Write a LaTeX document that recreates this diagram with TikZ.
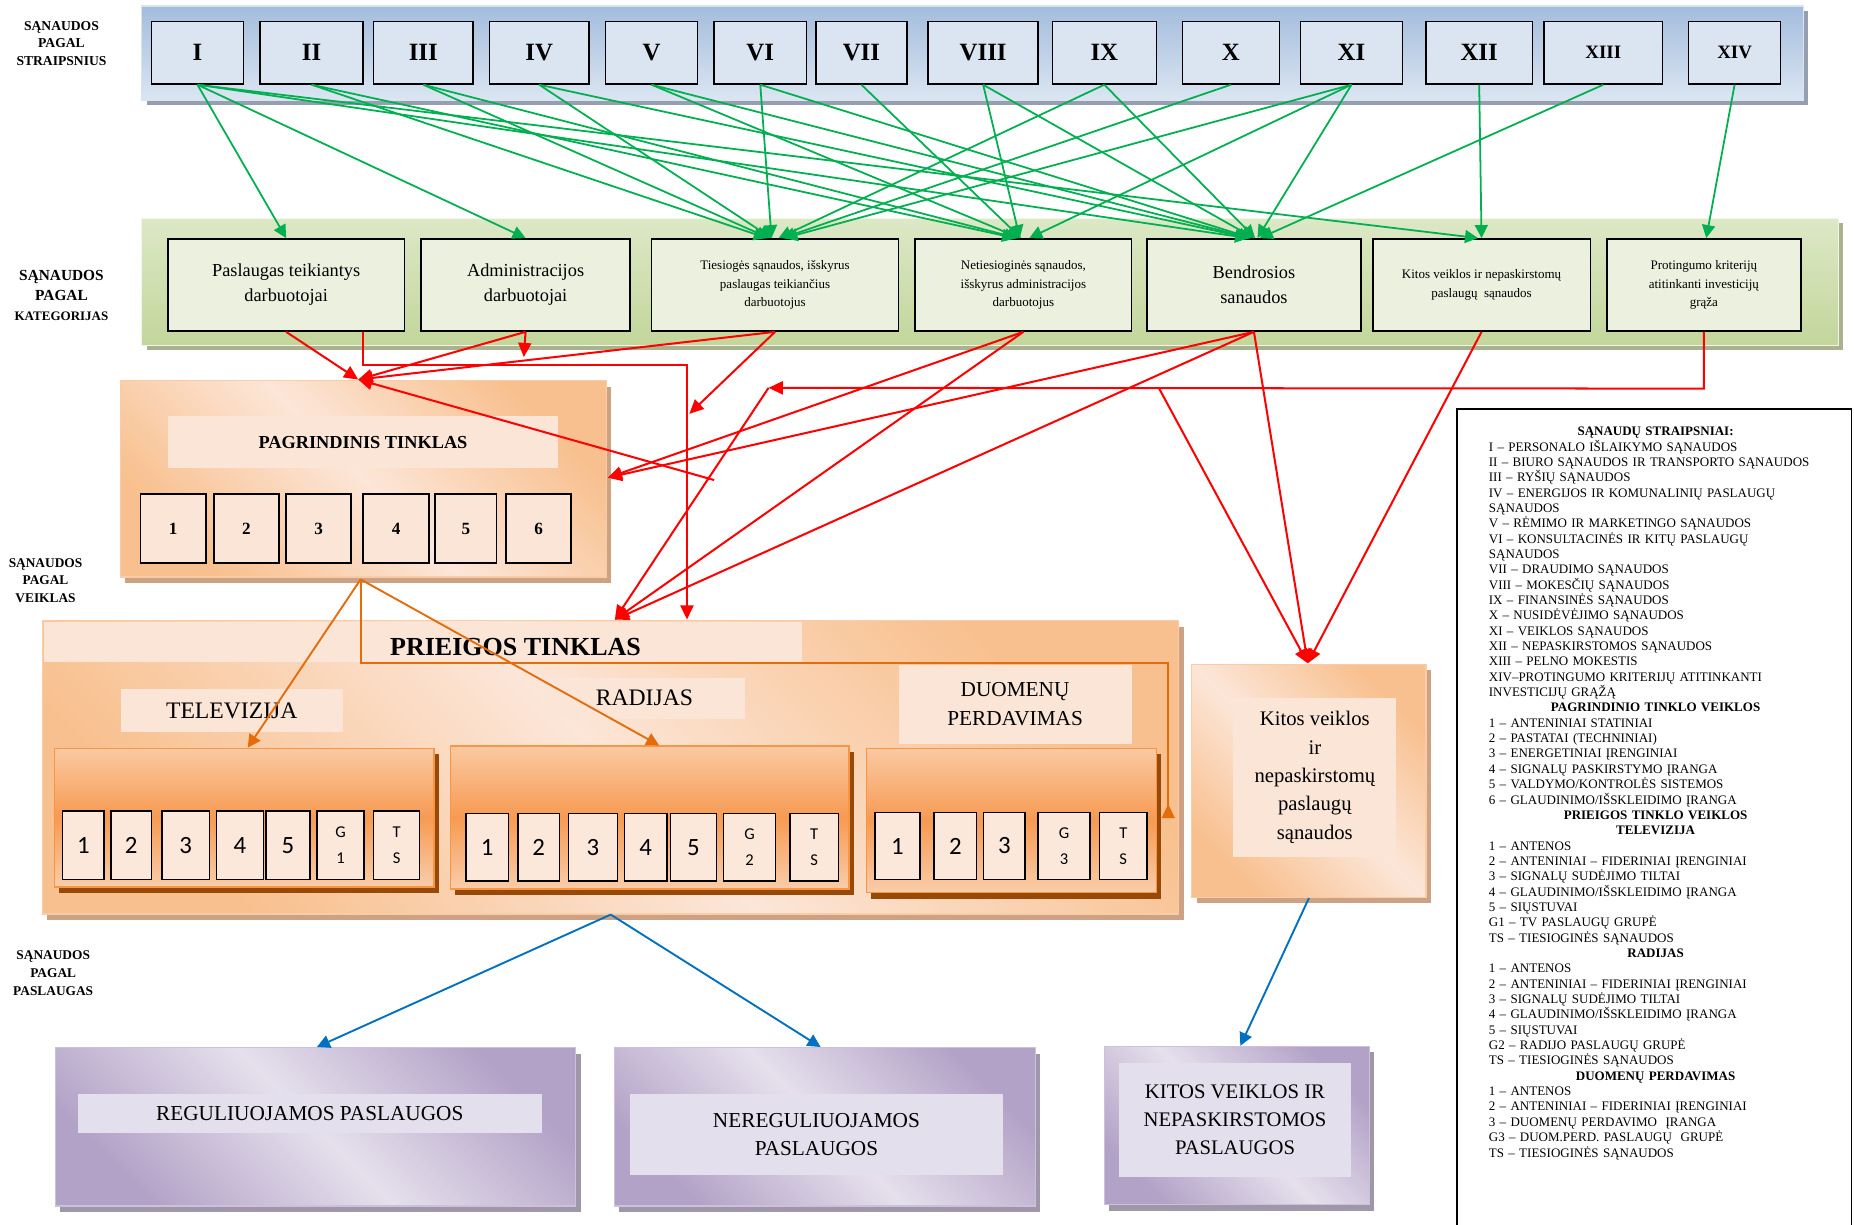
\documentclass[tikz,border=0pt]{standalone}
\usepackage{fontspec}
\setmainfont{Liberation Serif}
\newfontfamily\calib{Carlito}
\usepackage{tikz}
\usetikzlibrary{arrows.meta,shadows}

\definecolor{numfill}{HTML}{DBE5F1}
\definecolor{catfill}{HTML}{EBF1DE}
\definecolor{bluetop}{HTML}{A3BCDC}
\definecolor{bluebot}{HTML}{DCE6F2}
\definecolor{bluesh}{HTML}{959FB0}
\definecolor{grntop}{HTML}{DCE8C6}
\definecolor{grnbot}{HTML}{C3D69B}
\definecolor{grnsh}{HTML}{A9B28F}
\definecolor{orglight}{HTML}{FCE6D8}
\definecolor{orgdark}{HTML}{F8C08E}
\definecolor{orgsh}{HTML}{CDA284}
\definecolor{orgedge}{HTML}{F9CCA8}
\definecolor{subtop}{HTML}{FAC9A2}
\definecolor{submid}{HTML}{F79A52}
\definecolor{subbot}{HTML}{F9CDAA}
\definecolor{subedge}{HTML}{F79646}
\definecolor{brownsh}{HTML}{984807}
\definecolor{cellfill}{HTML}{FCE8DB}
\definecolor{bgorg}{HTML}{FBE5D6}
\definecolor{purdark}{HTML}{B3A2C7}
\definecolor{purlight}{HTML}{E5E0EC}
\definecolor{pursh}{HTML}{9F97A8}
\definecolor{puredge}{HTML}{CCC1DA}
\definecolor{purbg}{HTML}{E4DFEC}
\definecolor{grn}{HTML}{00B050}
\definecolor{rd}{HTML}{FF0000}
\definecolor{org}{HTML}{E46C0A}
\definecolor{blu}{HTML}{0070C0}

\begin{document}
\begin{tikzpicture}[x=1pt,y=-1pt,
  numbox/.style={draw, line width=1.3pt, fill=numfill, minimum height=53pt, inner sep=0pt, font=\fontsize{21}{24}\selectfont\bfseries},
  catbox/.style={draw, line width=1.3pt, fill=catfill, minimum height=78pt, inner sep=0pt, align=center},
  bigbox/.style={draw=orgedge, line width=1pt, top color=orgdark, bottom color=orgdark, middle color=orglight, shading angle=-45, drop shadow={shadow xshift=4pt, shadow yshift=-5pt, fill=orgsh, opacity=1}},
  subbox/.style={draw=subedge, line width=1.2pt, top color=subtop, bottom color=subbot, middle color=submid, drop shadow={shadow xshift=4pt, shadow yshift=-5pt, fill=brownsh, opacity=1}},
  purbox/.style={draw=puredge, line width=1pt, top color=purdark, bottom color=purdark, middle color=purlight, shading angle=-45, drop shadow={shadow xshift=4pt, shadow yshift=-5pt, fill=pursh, opacity=1}},
  bg/.style={fill=bgorg, inner sep=0pt, align=center},
  pbg/.style={fill=purbg, inner sep=0pt, align=center},
  pcell/.style={draw, line width=1.3pt, fill=bgorg, minimum height=58pt, inner sep=0pt, font=\fontsize{14.5}{17}\selectfont\bfseries},
  cell/.style={draw, line width=1.2pt, fill=cellfill, minimum height=58pt, inner sep=0pt, font=\calib\fontsize{21}{24}\selectfont},
  gcell/.style={cell, align=center, font=\calib\fontsize{14}{22}\selectfont},
  lab/.style={align=center, inner sep=0pt},
  garrow/.style={draw=grn, line width=1.5pt, -{Triangle[length=11pt,width=11pt]}},
  rarrow/.style={draw=rd, line width=1.7pt, -{Triangle[length=12pt,width=11pt]}},
  oarrow/.style={draw=org, line width=1.6pt, -{Triangle[length=11pt,width=11pt]}},
  barrow/.style={draw=blu, line width=1.6pt, -{Triangle[length=11pt,width=11pt]}}]

\useasboundingbox (0,0) rectangle (1568,1036);
\fill[white] (0,0) rectangle (1568,1036);

\node[lab, font=\fontsize{11.5}{14.8}\selectfont\bfseries] (lstr) at (52,36.5) {SĄNAUDOS\\PAGAL\\STRAIPSNIUS};
\node[lab, font=\fontsize{13}{17}\selectfont\bfseries] (lkat) at (52,250) {SĄNAUDOS\\PAGAL\\{\fontsize{11}{13}\selectfont KATEGORIJAS}};
\node[lab, font=\fontsize{11.3}{14.8}\selectfont\bfseries] (lveik) at (38.5,491) {SĄNAUDOS\\PAGAL\\VEIKLAS};
\node[lab, font=\fontsize{11.3}{15.2}\selectfont\bfseries] (lpasl) at (45,823) {SĄNAUDOS\\PAGAL\\PASLAUGAS};

\node[draw=white!60!bluetop, line width=1pt, top color=bluetop, bottom color=bluebot, drop shadow={shadow xshift=4pt, shadow yshift=-4pt, fill=bluesh, opacity=1}, minimum width=1405pt, minimum height=80pt] (art) at (822.5,45) {};
\node[draw=white!60!grntop, line width=1pt, top color=grntop, bottom color=grnbot, drop shadow={shadow xshift=4pt, shadow yshift=-4pt, fill=grnsh, opacity=1}, minimum width=1435pt, minimum height=107pt] (kat) at (837.5,238.5) {};

\node[numbox, minimum width=78pt] (I) at (167,44.5) {I};
\node[numbox, minimum width=87pt] (II) at (263.5,44.5) {II};
\node[numbox, minimum width=84pt] (III) at (358,44.5) {III};
\node[numbox, minimum width=84pt] (IV) at (456,44.5) {IV};
\node[numbox, minimum width=78pt] (V) at (551,44.5) {V};
\node[numbox, minimum width=78pt] (VI) at (643,44.5) {VI};
\node[numbox, minimum width=77pt] (VII) at (728.5,44.5) {VII};
\node[numbox, minimum width=93pt] (VIII) at (831.5,44.5) {VIII};
\node[numbox, minimum width=88pt] (IX) at (934,44.5) {IX};
\node[numbox, minimum width=82pt] (X) at (1041,44.5) {X};
\node[numbox, minimum width=86pt] (XI) at (1143,44.5) {XI};
\node[numbox, minimum width=90pt] (XII) at (1251,44.5) {XII};
\node[numbox, minimum width=100pt, font=\fontsize{16}{19}\selectfont\bfseries] (XIII) at (1356,44.5) {XIII};
\node[numbox, minimum width=78pt, font=\fontsize{16}{19}\selectfont\bfseries] (XIV) at (1467,44.5) {XIV};

\node[catbox, minimum width=200pt, font=\fontsize{15.5}{21}\selectfont] (P) at (242,241) {Paslaugas teikiantys\\darbuotojai};
\node[catbox, minimum width=177pt, font=\fontsize{15.5}{21}\selectfont] (A) at (444.5,241) {Administracijos\\darbuotojai};
\node[catbox, minimum width=209pt, font=\fontsize{11}{15.5}\selectfont] (T) at (655.5,241) {Tiesiogės sąnaudos, išskyrus\\paslaugas teikiančius\\darbuotojus};
\node[catbox, minimum width=183pt, font=\fontsize{11}{15.5}\selectfont] (N) at (865.5,241) {Netiesioginės sąnaudos,\\išskyrus administracijos\\darbuotojus};
\node[catbox, minimum width=181pt, font=\fontsize{15.5}{21}\selectfont] (B) at (1060.5,241) {Bendrosios\\sanaudos};
\node[catbox, minimum width=184pt, font=\fontsize{11}{16}\selectfont] (K) at (1253,241) {Kitos veiklos ir nepaskirstomų\\paslaugų\ \ sąnaudos};
\node[catbox, minimum width=164pt, font=\fontsize{11}{15.5}\selectfont] (R) at (1441,241) {Protingumo kriterijų\\atitinkanti investicijų\\grąža};

\node[bigbox, minimum width=411pt, minimum height=166pt] (PT) at (307.5,405) {};
\node[bg, minimum width=330pt, minimum height=44pt, font=\fontsize{15.5}{18}\selectfont\bfseries] (PTt) at (307,374) {PAGRINDINIS TINKLAS};
\node[pcell, minimum width=55pt] (p1) at (146.5,447) {1};
\node[pcell, minimum width=55pt] (p2) at (208.5,447) {2};
\node[pcell, minimum width=55pt] (p3) at (269.5,447) {3};
\node[pcell, minimum width=56pt] (p4) at (335,447) {4};
\node[pcell, minimum width=52pt] (p5) at (394,447) {5};
\node[pcell, minimum width=55pt] (p6) at (455.5,447) {6};

\node[bigbox, minimum width=961pt, minimum height=248pt] (AT) at (516.5,649) {};
\fill[bgorg] (37,526) rectangle (678,560);
\node[font=\fontsize{22}{25}\selectfont\bfseries] (ATt) at (436,547) {PRIEIGOS TINKLAS};
\node[bg, minimum width=188pt, minimum height=36pt, font=\fontsize{20}{23}\selectfont] (tvl) at (196,601) {TELEVIZIJA};
\node[bg, minimum width=170pt, minimum height=35pt, font=\fontsize{20}{23}\selectfont] (ral) at (545,590.5) {RADIJAS};
\node[bg, minimum width=197pt, minimum height=67pt, font=\fontsize{18}{24}\selectfont] (dal) at (858.5,595.5) {DUOMENŲ\\PERDAVIMAS};

\node[subbox, minimum width=321pt, minimum height=117pt] (TV) at (206.5,691.5) {};
\node[subbox, minimum width=337pt, minimum height=121pt] (RA) at (549.5,691.5) {};
\node[subbox, minimum width=245pt, minimum height=122pt] (DA) at (855.5,694) {};

\node[cell, minimum width=35pt] (t1) at (70.5,715) {1};
\node[cell, minimum width=34pt] (t2) at (111,715) {2};
\node[cell, minimum width=40pt] (t3) at (157,715) {3};
\node[cell, minimum width=40pt] (t4) at (203,715) {4};
\node[cell, minimum width=37pt] (t5) at (243.5,715) {5};
\node[gcell, minimum width=40pt] (tg) at (288,715) {G\\1};
\node[gcell, minimum width=39pt] (tts) at (335.5,715) {T\\S};

\node[cell, minimum width=36pt, minimum height=57pt] (r1) at (412,716.5) {1};
\node[cell, minimum width=35pt, minimum height=57pt] (r2) at (455.5,716.5) {2};
\node[cell, minimum width=41pt, minimum height=57pt] (r3) at (501.5,716.5) {3};
\node[cell, minimum width=36pt, minimum height=57pt] (r4) at (546,716.5) {4};
\node[cell, minimum width=39pt, minimum height=57pt] (r5) at (586.5,716.5) {5};
\node[gcell, minimum width=44pt, minimum height=57pt] (rg) at (634,716.5) {G\\2};
\node[gcell, minimum width=41pt, minimum height=57pt] (rts) at (688.5,716.5) {T\\S};

\node[cell, minimum width=38pt, minimum height=57pt] (d1) at (759,715.5) {1};
\node[cell, minimum width=36pt, minimum height=57pt] (d2) at (808,715.5) {2};
\node[cell, minimum width=35pt, minimum height=57pt] (d3) at (849.5,715.5) {3};
\node[gcell, minimum width=44pt, minimum height=57pt] (dg) at (900,715.5) {G\\3};
\node[gcell, minimum width=40pt, minimum height=57pt] (dts) at (950,715.5) {T\\S};

\node[bigbox, minimum width=198pt, minimum height=197pt] (KV) at (1107,660.5) {};
\node[bg, minimum width=138pt, minimum height=135pt, font=\fontsize{17.5}{24}\selectfont] (KVt) at (1112,657.5) {Kitos veiklos\\ir\\nepaskirstomų\\paslaugų\\sąnaudos};

\node[purbox, minimum width=440pt, minimum height=134pt] (PR) at (267,953) {};
\node[pbg, minimum width=392pt, minimum height=33pt, font=\fontsize{18}{24}\selectfont] (PRt) at (262,941.5) {REGULIUOJAMOS PASLAUGOS};
\node[purbox, minimum width=356pt, minimum height=134pt] (NR) at (697.5,953) {};
\node[pbg, minimum width=315pt, minimum height=69pt, font=\fontsize{18}{24}\selectfont] (NRt) at (690.5,959.5) {NEREGULIUOJAMOS\\PASLAUGOS};
\node[purbox, minimum width=224pt, minimum height=134pt] (KP) at (1046,952) {};
\node[pbg, minimum width=197pt, minimum height=96pt, font=\fontsize{17.5}{24}\selectfont] (KPt) at (1044.5,947) {KITOS VEIKLOS IR\\NEPASKIRSTOMOS\\PASLAUGOS};

\draw[line width=1.3pt] (1232,1036) |- (1566,346) -- (1566,1036);
\node[anchor=north west, text width=282pt, align=left, inner sep=0pt, font=\fontsize{11}{12.98}\selectfont] (lg) at (1259,361) {%
\makebox[282pt]{\bfseries SĄNAUDŲ STRAIPSNIAI:}\\
I – PERSONALO IŠLAIKYMO SĄNAUDOS\\
II – BIURO SĄNAUDOS IR TRANSPORTO SĄNAUDOS\\
III – RYŠIŲ SĄNAUDOS\\
\makebox[282pt][s]{IV – ENERGIJOS IR KOMUNALINIŲ PASLAUGŲ}\\
SĄNAUDOS\\
V – RĖMIMO IR MARKETINGO SĄNAUDOS\\
\makebox[282pt][s]{VI – KONSULTACINĖS IR KITŲ PASLAUGŲ}\\
SĄNAUDOS\\
VII – DRAUDIMO SĄNAUDOS\\
VIII – MOKESČIŲ SĄNAUDOS\\
IX – FINANSINĖS SĄNAUDOS\\
X – NUSIDĖVĖJIMO SĄNAUDOS\\
XI – VEIKLOS SĄNAUDOS\\
XII – NEPASKIRSTOMOS SĄNAUDOS\\
XIII – PELNO MOKESTIS\\
XIV–PROTINGUMO KRITERIJŲ ATITINKANTI\\
INVESTICIJŲ GRĄŽĄ\\
\makebox[282pt]{\bfseries PAGRINDINIO TINKLO VEIKLOS}\\
1 – ANTENINIAI STATINIAI\\
2 – PASTATAI (TECHNINIAI)\\
3 – ENERGETINIAI ĮRENGINIAI\\
4 – SIGNALŲ PASKIRSTYMO ĮRANGA\\
5 – VALDYMO/KONTROLĖS SISTEMOS\\
6 – GLAUDINIMO/IŠSKLEIDIMO ĮRANGA\\
\makebox[282pt]{\bfseries PRIEIGOS TINKLO VEIKLOS}\\
\makebox[282pt]{\bfseries TELEVIZIJA}\\
1 – ANTENOS\\
2 – ANTENINIAI – FIDERINIAI ĮRENGINIAI\\
3 – SIGNALŲ SUDĖJIMO TILTAI\\
4 – GLAUDINIMO/IŠSKLEIDIMO ĮRANGA\\
5 – SIŲSTUVAI\\
G1 – TV PASLAUGŲ GRUPĖ\\
TS – TIESIOGINĖS SĄNAUDOS\\
\makebox[282pt]{\bfseries RADIJAS}\\
1 – ANTENOS\\
2 – ANTENINIAI – FIDERINIAI ĮRENGINIAI\\
3 – SIGNALŲ SUDĖJIMO TILTAI\\
4 – GLAUDINIMO/IŠSKLEIDIMO ĮRANGA\\
5 – SIŲSTUVAI\\
G2 – RADIJO PASLAUGŲ GRUPĖ\\
TS – TIESIOGINĖS SĄNAUDOS\\
\makebox[282pt]{\bfseries DUOMENŲ PERDAVIMAS}\\
1 – ANTENOS\\
2 – ANTENINIAI – FIDERINIAI ĮRENGINIAI\\
3 – DUOMENŲ PERDAVIMO\ \ ĮRANGA\\
G3 – DUOM.PERD. PASLAUGŲ\ \ GRUPĖ\\
TS – TIESIOGINĖS SĄNAUDOS};

\path (I.south) edge[garrow] (P.north) edge[garrow] (A.north) edge[garrow] ([xshift=-5pt]B.north) edge[garrow] ([xshift=-3pt]K.north);
\path (II.south) edge[garrow] ([xshift=-7pt]T.north) edge[garrow] ([xshift=-7pt]N.north);
\path (III.south) edge[garrow] ([xshift=-5pt]T.north) edge[garrow] ([xshift=-5pt]N.north);
\path (IV.south) edge[garrow] ([xshift=-3pt]T.north) edge[garrow] ([xshift=-4pt]B.north);
\path (V.south) edge[garrow] ([xshift=-3pt]N.north) edge[garrow] ([xshift=-3pt]B.north);
\path (VI.south) edge[garrow] ([xshift=-3pt]T.north) edge[garrow] ([xshift=-2pt]B.north);
\draw[garrow] (VII.south) -- ([xshift=-2pt]N.north);
\path (VIII.south) edge[garrow] ([xshift=-3pt]N.north) edge[garrow] (B.north);
\path (IX.south) edge[garrow] ([xshift=3pt]T.north) edge[garrow] ([xshift=1pt]B.north);
\draw[garrow] (X.south) -- ([xshift=6pt]T.north);
\path (XI.south) edge[garrow] ([xshift=8pt]T.north) edge[garrow] ([xshift=5pt]N.north) edge[garrow] ([xshift=3pt]B.north);
\draw[garrow] (XII.south) -- (K.north);
\draw[garrow] (XIII.south) -- ([xshift=5pt]B.north);
\draw[garrow] (XIV.south) -- ([xshift=2pt]R.north);

\coordinate (ptin) at (303,321);
\coordinate (ptr) at (514,404);
\coordinate (atin) at (520,524);
\coordinate (atmid) at (581,524);
\coordinate (kvin) at (1106,561);
\coordinate (stray) at (604,406);
\coordinate (ain) at (443,302);
\coordinate (tin) at (583,350);
\coordinate (rend) at (650,328);
\coordinate (rbr) at (980,328);

\draw[rarrow] (P.south) -- (ptin);
\draw[rarrow] ([xshift=65pt]P.south) -- ++(0,28) -| (atmid);
\path (A.south) edge[rarrow] (ptin) edge[rarrow] (ain);
\path (T.south) edge[rarrow] (ptin) edge[rarrow] (tin);
\draw[rarrow] (stray) -- (ptin);
\path (N.south) edge[rarrow] (ptr) edge[rarrow] (atin);
\path (B.south) edge[rarrow] (ptr) edge[rarrow] (atin) edge[rarrow] (kvin);
\draw[rarrow] (K.south) -- (kvin);
\draw[rarrow] (R.south) -- ++(0,48) -- (rend);
\draw[rarrow] (rend) -- (atin);
\draw[rarrow] (rbr) -- (kvin);

\coordinate (ptout) at (305,490);
\coordinate (dain) at (988,692);
\path (ptout) edge[oarrow] ([xshift=3pt]TV.north) edge[oarrow] ([xshift=8pt]RA.north);
\draw[oarrow, -{Triangle[reversed,length=12pt,width=11pt]}] (ptout) -- ++(0,71) -| (dain);

\path (AT.south) edge[barrow] ([xshift=1pt]PR.north) edge[barrow] ([xshift=-3.5pt]NR.north);
\draw[barrow] (KV.south) -- ([xshift=3pt]KP.north);
\end{tikzpicture}
\end{document}
